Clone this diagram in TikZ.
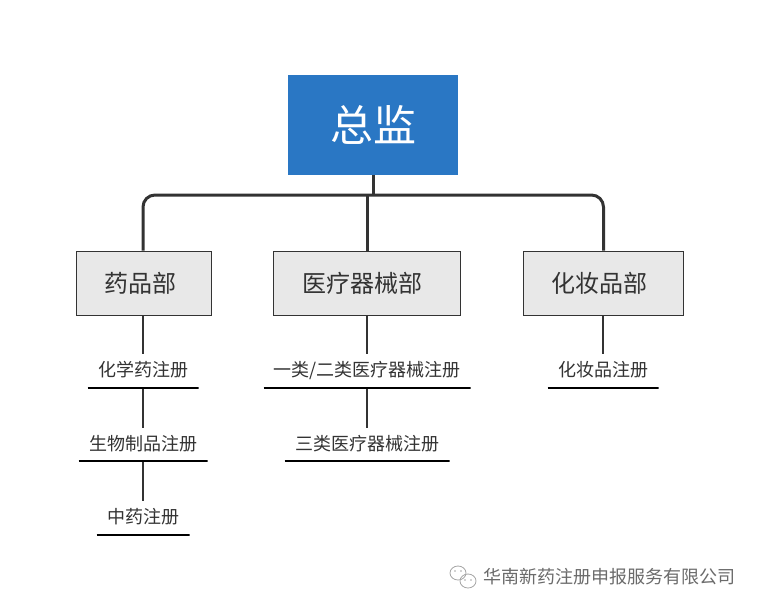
\documentclass[tikz,border=0pt]{standalone}
\usepackage{fontspec}
\setmainfont{Noto Sans CJK SC}
\definecolor{ink}{HTML}{333333}
\definecolor{bluebox}{HTML}{2A77C4}
\definecolor{greybox}{HTML}{E8E8E8}
\newcommand{\sublabel}[1]{\raisebox{4.5pt}{#1}}
\tikzset{
  x=1pt,y=-1pt,
  topbox/.style={fill=bluebox,text=white,minimum width=170pt,minimum height=100pt,inner sep=0pt,font=\fontsize{43}{46}\selectfont},
  deptbox/.style={fill=greybox,draw=ink,line width=1pt,text=ink,minimum height=64pt,inner sep=0pt,font=\fontsize{24}{28}\selectfont},
  subitem/.style={text=ink,minimum height=34pt,inner sep=0pt,font=\fontsize{18}{22}\selectfont,path picture={\draw[black,line width=4pt] (path picture bounding box.south west) -- (path picture bounding box.south east);}},
  trunk/.style={draw=ink,line width=3pt,rounded corners=12pt},
  twig/.style={draw=ink,line width=1.2pt},
}
\begin{document}
\begin{tikzpicture}
\useasboundingbox (0,0) rectangle (759,610);
\fill[white] (0,0) rectangle (759,610);
\node[topbox] (top) at (373,125) {总监};
\node[deptbox,minimum width=135pt] (d1) at (143.5,283) {\raisebox{0.8pt}{药品部}\hspace*{6pt}};
\node[deptbox,minimum width=187pt] (d2) at (367,283) {\raisebox{0.8pt}{医疗器械部}\hspace*{9pt}};
\node[deptbox,minimum width=160pt] (d3) at (603.5,283) {\raisebox{0.8pt}{化妆品部}\hspace*{8pt}};
\node[subitem,minimum width=111pt] (a1) at (143,371.5) {\sublabel{化学药注册}};
\node[subitem,minimum width=129pt] (a2) at (143,444.7) {\sublabel{生物制品注册}};
\node[subitem,minimum width=93pt] (a3) at (143,518.5) {\sublabel{中药注册}};
\node[subitem,minimum width=207pt] (b1) at (367,371.5) {\sublabel{一类/二类医疗器械注册}};
\node[subitem,minimum width=165pt] (b2) at (367,444.7) {\sublabel{三类医疗器械注册}};
\node[subitem,minimum width=111pt] (c1) at (603,371.5) {\sublabel{化妆品注册}};
\coordinate (bus) at (373,195);
\path[trunk] (top.south) -- (bus);
\path[trunk] (d1.north -| a1) -- (a1 |- bus) -- (d3.north |- bus) -- (d3.north);
\path[trunk] (d2.north) -- (d2.north |- bus);
\path[twig] (d1.south -| a1) -- (a1.north);
\path[twig] (a1.south) -- (a2.north);
\path[twig] (a2.south) -- (a3.north);
\path[twig] (d2.south) -- (b1.north);
\path[twig] (b1.south) -- (b2.north);
\path[twig] (d3.south -| c1) -- (c1.north);
\begin{scope}[draw=black!35,line width=0.8pt,fill=white]
\draw (458,573) ellipse [x radius=8pt,y radius=7pt];
\draw (468,581) ellipse [x radius=8pt,y radius=7pt];
\fill[black!35] (455,571) circle (0.9pt) (461,571) circle (0.9pt) (465,580) circle (0.9pt) (471,580) circle (0.9pt);
\end{scope}
\node[text=black!58,inner sep=0pt,font=\fontsize{18}{22}\selectfont] (wm) at (609,577) {华南新药注册申报服务有限公司};
\end{tikzpicture}
\end{document}
